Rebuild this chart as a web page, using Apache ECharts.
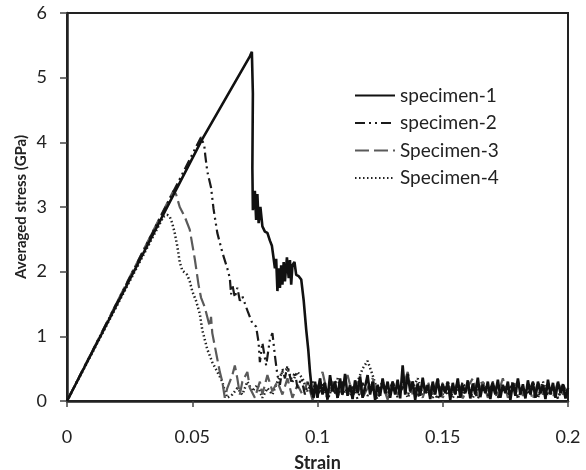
<!DOCTYPE html>
<html>
<head>
<meta charset="utf-8">
<title>Averaged stress vs strain</title>
<script src="https://cdn.jsdelivr.net/npm/echarts@6/dist/echarts.min.js"></script>
<style>
  html, body { margin: 0; padding: 0; background: #fff; }
  #chart { width: 586px; height: 470px; }
</style>
</head>
<body>
<div id="chart"></div>
<script>
// 坐标轴刻度
const xTicks = [0, 0.05, 0.1, 0.15, 0.2]
const yTicks = [0, 1, 2, 3, 4, 5, 6]
const seriesNames = ['specimen-1', 'specimen-2', 'Specimen-3', 'Specimen-4']

// specimen-1  [strain, stress]
const spec1 = [
  [0, 0], [0.054, 4.05], [0.0730, 5.33], [0.0738, 5.40], [0.0744, 5.37], [0.0742, 4.75], [0.0740, 3.6],
  [0.0742, 2.95], [0.0750, 3.25], [0.0755, 2.8], [0.0760, 3.2], [0.0765, 2.75], [0.0772, 3.0], [0.0780, 2.7],
  [0.0790, 2.62], [0.0800, 2.6], [0.0810, 2.48], [0.0818, 2.4], [0.0825, 2.2], [0.0830, 2.05], [0.0835, 2.2],
  [0.0840, 1.7], [0.0845, 2.05], [0.0850, 1.75], [0.0855, 2.1], [0.0860, 1.8], [0.0865, 2.15], [0.0870, 1.85],
  [0.0878, 2.22], [0.0885, 1.9], [0.0890, 2.18], [0.0895, 1.8], [0.0900, 2.1], [0.0908, 2.15], [0.0915, 1.95],
  [0.0925, 1.93], [0.0935, 1.88], [0.0945, 1.55], [0.0955, 1.1], [0.0963, 0.8], [0.0970, 0.45], [0.0978, 0.15],
  [0.0985, 0.05], [0.099, 0.3], [0.100, 0.05], [0.101, 0.35], [0.102, 0.1], [0.103, 0.28], [0.104, 0.02],
  [0.105, 0.4], [0.106, 0.15], [0.107, 0.3], [0.108, 0.05], [0.109, 0.35], [0.110, 0.1], [0.111, 0.42],
  [0.112, 0.08], [0.113, 0.25], [0.114, 0.03], [0.115, 0.32], [0.116, 0.12], [0.117, 0.38], [0.118, 0.05],
  [0.119, 0.22], [0.120, 0.4], [0.121, 0.1], [0.122, 0.3], [0.123, 0.02], [0.124, 0.25], [0.125, 0.08],
  [0.126, 0.35], [0.127, 0.12], [0.128, 0.3], [0.129, 0.05], [0.130, 0.28], [0.131, 0.1], [0.132, 0.33],
  [0.133, 0.04], [0.134, 0.55], [0.135, 0.1], [0.136, 0.42], [0.137, 0.15], [0.138, 0.3], [0.139, 0.02],
  [0.140, 0.27], [0.141, 0.08], [0.142, 0.36], [0.143, 0.12], [0.144, 0.25], [0.145, 0.03], [0.146, 0.3],
  [0.147, 0.1], [0.148, 0.34], [0.149, 0.06], [0.150, 0.26], [0.151, 0.12], [0.152, 0.3], [0.153, 0.02],
  [0.154, 0.28], [0.155, 0.1], [0.156, 0.35], [0.157, 0.05], [0.158, 0.24], [0.159, 0.12], [0.160, 0.32],
  [0.161, 0.04], [0.162, 0.27], [0.163, 0.1], [0.164, 0.36], [0.165, 0.06], [0.166, 0.25], [0.167, 0.12],
  [0.168, 0.3], [0.169, 0.03], [0.170, 0.28], [0.171, 0.1], [0.172, 0.33], [0.173, 0.05], [0.174, 0.25],
  [0.175, 0.12], [0.176, 0.3], [0.177, 0.02], [0.178, 0.27], [0.179, 0.08], [0.180, 0.35], [0.181, 0.1],
  [0.182, 0.26], [0.183, 0.04], [0.184, 0.32], [0.185, 0.1], [0.186, 0.28], [0.187, 0.05], [0.188, 0.3],
  [0.189, 0.12], [0.190, 0.25], [0.191, 0.03], [0.192, 0.33], [0.193, 0.1], [0.194, 0.28], [0.195, 0.05],
  [0.196, 0.3], [0.197, 0.12], [0.198, 0.26], [0.199, 0.04], [0.200, 0.2]
]

// specimen-2
const spec2 = [
  [0, 0], [0.0535, 4.08], [0.0548, 3.95], [0.0552, 3.8], [0.056, 3.55], [0.0575, 3.3], [0.0585, 2.97],
  [0.060, 2.6], [0.062, 2.3], [0.064, 2.05], [0.065, 1.9], [0.0655, 1.65], [0.066, 1.8], [0.067, 1.6],
  [0.068, 1.75], [0.069, 1.55], [0.070, 1.62], [0.072, 1.4], [0.074, 1.2], [0.0755, 1.15], [0.0765, 0.9],
  [0.077, 0.6], [0.078, 0.9], [0.0795, 0.55], [0.081, 0.95], [0.082, 1.05], [0.083, 0.7], [0.084, 0.4],
  [0.085, 0.25], [0.086, 0.5], [0.087, 0.35], [0.088, 0.55], [0.0895, 0.3], [0.091, 0.45], [0.092, 0.2],
  [0.0935, 0.35], [0.095, 0.1], [0.0965, 0.3], [0.098, 0.05], [0.0995, 0.25], [0.101, 0.1], [0.1025, 0.3],
  [0.104, 0.02], [0.106, 0.2], [0.108, 0.05], [0.110, 0.3], [0.112, 0.1], [0.114, 0.22], [0.116, 0.03],
  [0.118, 0.28], [0.120, 0.08], [0.122, 0.2], [0.124, 0.02], [0.126, 0.25], [0.128, 0.1], [0.130, 0.3],
  [0.132, 0.05], [0.134, 0.22], [0.136, 0.08], [0.138, 0.3], [0.140, 0.05], [0.142, 0.25], [0.144, 0.1],
  [0.146, 0.2], [0.148, 0.02], [0.150, 0.28], [0.152, 0.08], [0.154, 0.22], [0.156, 0.05], [0.158, 0.3],
  [0.160, 0.1], [0.162, 0.2], [0.164, 0.03], [0.166, 0.25], [0.168, 0.08], [0.170, 0.3], [0.172, 0.05],
  [0.174, 0.2], [0.176, 0.1], [0.178, 0.28], [0.180, 0.04], [0.182, 0.22], [0.184, 0.1], [0.186, 0.3],
  [0.188, 0.05], [0.190, 0.25], [0.192, 0.1], [0.194, 0.2], [0.196, 0.03], [0.198, 0.25], [0.200, 0.1]
]

// Specimen-3
const spec3 = [
  [0, 0], [0.0425, 3.25], [0.0435, 3.2], [0.045, 3.0], [0.047, 2.85], [0.049, 2.65], [0.051, 2.2],
  [0.0525, 1.8], [0.0535, 1.6], [0.055, 1.45], [0.056, 1.3], [0.057, 1.15], [0.0575, 1.3], [0.058, 1.05],
  [0.059, 0.85], [0.060, 0.65], [0.061, 0.45], [0.062, 0.3], [0.063, 0.05], [0.064, 0.2], [0.066, 0.4],
  [0.067, 0.55], [0.068, 0.35], [0.069, 0.1], [0.070, 0.3], [0.072, 0.45], [0.073, 0.2], [0.075, 0.05],
  [0.077, 0.3], [0.078, 0.1], [0.080, 0.4], [0.082, 0.15], [0.084, 0.3], [0.086, 0.1], [0.088, 0.35],
  [0.090, 0.05], [0.092, 0.25], [0.094, 0.1], [0.096, 0.3], [0.098, 0.02], [0.100, 0.2], [0.102, 0.45],
  [0.104, 0.1], [0.106, 0.3], [0.108, 0.05], [0.110, 0.25], [0.112, 0.4], [0.114, 0.1], [0.116, 0.3],
  [0.118, 0.05], [0.120, 0.2], [0.122, 0.35], [0.124, 0.08], [0.126, 0.25], [0.128, 0.02], [0.130, 0.3],
  [0.132, 0.1], [0.134, 0.2], [0.136, 0.45], [0.138, 0.1], [0.140, 0.25], [0.142, 0.05], [0.144, 0.3],
  [0.146, 0.1], [0.148, 0.35], [0.150, 0.05], [0.152, 0.25], [0.154, 0.1], [0.156, 0.3], [0.158, 0.04],
  [0.160, 0.22], [0.162, 0.35], [0.164, 0.08], [0.166, 0.3], [0.168, 0.05], [0.170, 0.25], [0.172, 0.1],
  [0.174, 0.35], [0.176, 0.05], [0.178, 0.2], [0.180, 0.3], [0.182, 0.08], [0.184, 0.25], [0.186, 0.02],
  [0.188, 0.3], [0.190, 0.1], [0.192, 0.25], [0.194, 0.05], [0.196, 0.3], [0.198, 0.1], [0.200, 0.2]
]

// Specimen-4
const spec4 = [
  [0, 0], [0.0385, 2.85], [0.040, 2.88], [0.041, 2.85], [0.042, 2.75], [0.043, 2.6], [0.044, 2.4],
  [0.045, 2.15], [0.046, 2.02], [0.048, 1.95], [0.049, 1.85], [0.050, 1.7], [0.0515, 1.55], [0.053, 1.35],
  [0.054, 1.1], [0.055, 0.95], [0.056, 0.8], [0.058, 0.6], [0.060, 0.45], [0.062, 0.3], [0.063, 0.15],
  [0.064, 0.05], [0.066, 0.1], [0.068, 0.2], [0.070, 0.1], [0.072, 0.3], [0.074, 0.15], [0.076, 0.25],
  [0.078, 0.05], [0.080, 0.2], [0.082, 0.1], [0.084, 0.3], [0.086, 0.45], [0.088, 0.5], [0.090, 0.3],
  [0.092, 0.45], [0.094, 0.35], [0.096, 0.15], [0.098, 0.3], [0.100, 0.1], [0.102, 0.25], [0.104, 0.05],
  [0.106, 0.2], [0.108, 0.35], [0.110, 0.1], [0.112, 0.2], [0.114, 0.05], [0.116, 0.3], [0.118, 0.5],
  [0.120, 0.62], [0.122, 0.4], [0.124, 0.15], [0.126, 0.3], [0.128, 0.05], [0.130, 0.2], [0.132, 0.1],
  [0.134, 0.3], [0.136, 0.05], [0.138, 0.2], [0.140, 0.35], [0.142, 0.1], [0.144, 0.2], [0.146, 0.05],
  [0.148, 0.25], [0.150, 0.1], [0.152, 0.3], [0.154, 0.05], [0.156, 0.2], [0.158, 0.1], [0.160, 0.25],
  [0.162, 0.05], [0.164, 0.2], [0.166, 0.3], [0.168, 0.1], [0.170, 0.2], [0.172, 0.05], [0.174, 0.25],
  [0.176, 0.1], [0.178, 0.3], [0.180, 0.05], [0.182, 0.2], [0.184, 0.1], [0.186, 0.25], [0.188, 0.05],
  [0.190, 0.3], [0.192, 0.1], [0.194, 0.2], [0.196, 0.05], [0.198, 0.25], [0.200, 0.1]
]

const FONT = 'Lato'
const chart = echarts.init(document.getElementById('chart'), null, { renderer: 'canvas' })

// 线型：实线 / 点划线 / 长虚线 / 点线
function lineSeries(name, data, color, type, width) {
  return {
    name: name,
    type: 'line',
    data: data,
    showSymbol: false,
    symbol: 'none',
    animation: false,
    lineStyle: { color: color, width: width, type: type, cap: 'butt' },
    itemStyle: { color: color }
  }
}

const option = {
  backgroundColor: '#fff',
  textStyle: { fontFamily: FONT },
  grid: {
    left: 67, right: 18, top: 13, bottom: 69,
    outerBoundsMode: 'none',
    show: true, borderColor: '#222', borderWidth: 2, backgroundColor: 'transparent'
  },
  legend: {
    data: seriesNames,
    orient: 'vertical',
    left: 349,
    top: 81,
    itemWidth: 40,
    itemHeight: 18,
    itemGap: 8.5,
    // 图例只显示线型，不显示圆点
    itemStyle: { color: 'transparent', borderColor: 'transparent', borderWidth: 0 },
    textStyle: { fontFamily: FONT, fontSize: 19, color: '#222' }
  },
  xAxis: {
    type: 'value',
    min: xTicks[0],
    max: xTicks[xTicks.length - 1],
    interval: xTicks[1] - xTicks[0],
    name: 'Strain',
    nameLocation: 'middle',
    nameGap: 53,
    nameTextStyle: { fontFamily: FONT, fontSize: 18, fontWeight: 'bold', color: '#222' },
    axisLine: { show: true, lineStyle: { color: '#222', width: 2.5 } },
    axisTick: { show: true, length: 6, lineStyle: { color: '#444', width: 1.5 } },
    axisLabel: { margin: 27, fontFamily: FONT, fontSize: 18, color: '#222' },
    splitLine: { show: false }
  },
  yAxis: {
    type: 'value',
    min: yTicks[0],
    max: yTicks[yTicks.length - 1],
    interval: 1,
    name: 'Averaged stress (GPa)',
    nameLocation: 'middle',
    nameGap: 38,
    nameMoveOverlap: false,
    nameTextStyle: { fontFamily: FONT, fontSize: 15, fontWeight: 'bold', color: '#222' },
    axisLine: { show: true, lineStyle: { color: '#222', width: 2.5 } },
    axisTick: { show: true, length: 7, lineStyle: { color: '#444', width: 1.5 } },
    axisLabel: { margin: 20, fontFamily: FONT, fontSize: 18, color: '#222' },
    splitLine: { show: false }
  },
  series: [
    lineSeries(seriesNames[3], spec4, '#222', [1.5, 2.5], 2.5),
    lineSeries(seriesNames[2], spec3, '#5a5a5a', [14, 5], 2.2),
    lineSeries(seriesNames[1], spec2, '#1a1a1a', [10, 4, 2, 4, 2, 4], 2.2),
    lineSeries(seriesNames[0], spec1, '#111', 'solid', 2.6)
  ]
}
chart.setOption(option)
</script>
</body>
</html>
